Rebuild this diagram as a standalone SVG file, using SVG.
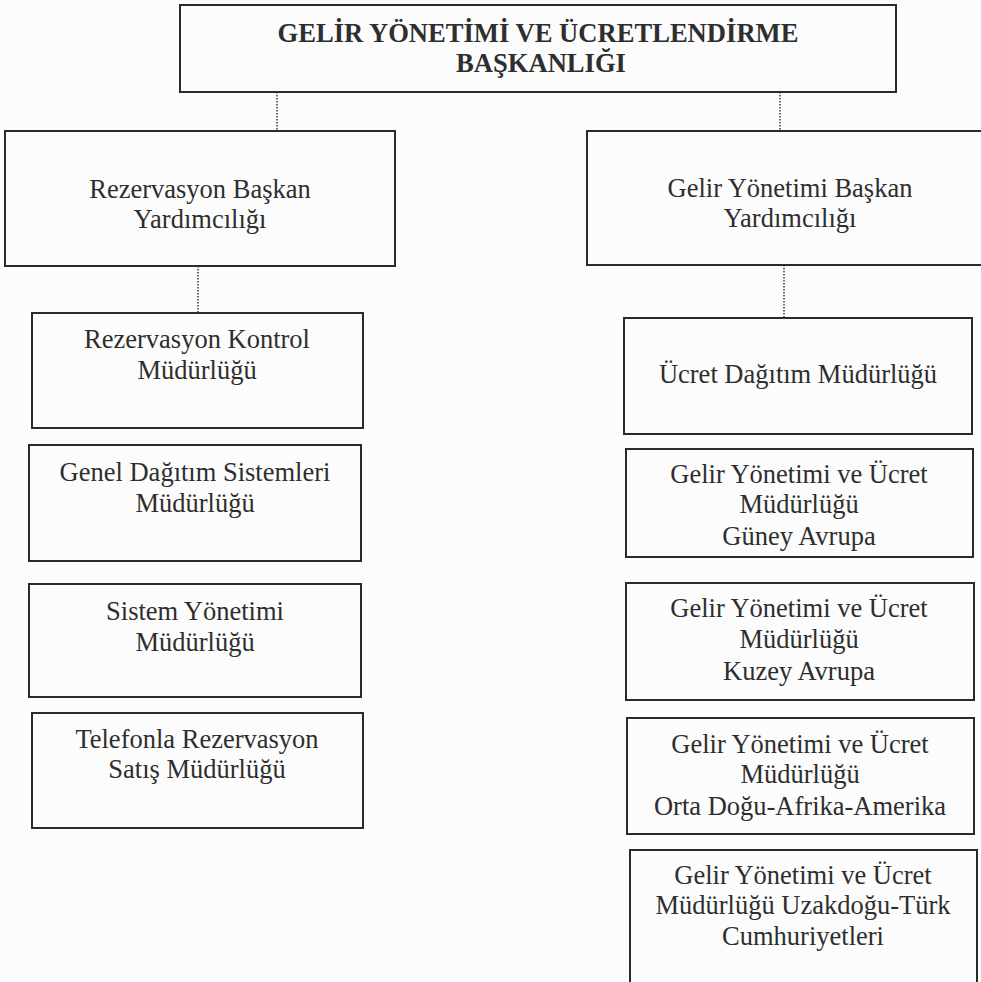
<svg xmlns="http://www.w3.org/2000/svg" width="981" height="982" viewBox="0 0 981 982">
  <style>
    .box { fill: none; stroke: #2a2a2a; stroke-width: 2; }
    .link { stroke: #444; stroke-width: 1.6; stroke-dasharray: 1.5 1.5; fill: none; }
    text { font-family: "Liberation Serif", "Times New Roman", serif; fill: #2e2e2e; text-anchor: middle; }
    .t { font-size: 26.5px; }
    .title { font-size: 26.6px; font-weight: bold; }
  </style>
  <rect width="981" height="982" fill="#fcfcfc"/>

  <!-- connectors -->
  <g id="connectors">
    <line class="link" x1="277" y1="92" x2="277" y2="131"/>
    <line class="link" x1="780" y1="92" x2="780" y2="131"/>
    <line class="link" x1="198" y1="266" x2="198" y2="313"/>
    <line class="link" x1="784" y1="265" x2="784" y2="318"/>
  </g>

  <!-- head office -->
  <g id="baskanlik">
    <rect class="box" x="180" y="5" width="716" height="87"/>
    <text class="title" x="538" y="42">GELİR YÖNETİMİ VE ÜCRETLENDİRME</text>
    <text class="title" x="541" y="72">BAŞKANLIĞI</text>
  </g>

  <!-- deputy heads -->
  <g id="rezervasyon-bsk-yrd">
    <rect class="box" x="5" y="131" width="390" height="135"/>
    <text class="t" x="200" y="198">Rezervasyon Başkan</text>
    <text class="t" x="200" y="228">Yardımcılığı</text>
  </g>
  <g id="gelir-bsk-yrd">
    <rect class="box" x="587" y="131" width="410" height="134"/>
    <text class="t" x="790" y="197">Gelir Yönetimi Başkan</text>
    <text class="t" x="790" y="227">Yardımcılığı</text>
  </g>

  <!-- left column -->
  <g id="rezervasyon-kontrol">
    <rect class="box" x="32" y="313" width="331" height="115"/>
    <text class="t" x="197" y="348">Rezervasyon Kontrol</text>
    <text class="t" x="197" y="379">Müdürlüğü</text>
  </g>
  <g id="genel-dagitim">
    <rect class="box" x="29" y="445" width="332" height="116"/>
    <text class="t" x="195" y="481">Genel Dağıtım Sistemleri</text>
    <text class="t" x="195" y="512">Müdürlüğü</text>
  </g>
  <g id="sistem-yonetimi">
    <rect class="box" x="29" y="584" width="332" height="113"/>
    <text class="t" x="195" y="620">Sistem Yönetimi</text>
    <text class="t" x="195" y="651">Müdürlüğü</text>
  </g>
  <g id="telefonla-satis">
    <rect class="box" x="32" y="713" width="331" height="115"/>
    <text class="t" x="197" y="748">Telefonla Rezervasyon</text>
    <text class="t" x="197" y="778">Satış Müdürlüğü</text>
  </g>

  <!-- right column -->
  <g id="ucret-dagitim">
    <rect class="box" x="624" y="318" width="348" height="116"/>
    <text class="t" x="798" y="383">Ücret Dağıtım Müdürlüğü</text>
  </g>
  <g id="guney-avrupa">
    <rect class="box" x="626" y="449" width="347" height="108"/>
    <text class="t" x="799" y="483">Gelir Yönetimi ve Ücret</text>
    <text class="t" x="799" y="513">Müdürlüğü</text>
    <text class="t" x="799" y="545">Güney Avrupa</text>
  </g>
  <g id="kuzey-avrupa">
    <rect class="box" x="626" y="583" width="348" height="117"/>
    <text class="t" x="799" y="617">Gelir Yönetimi ve Ücret</text>
    <text class="t" x="799" y="648">Müdürlüğü</text>
    <text class="t" x="799" y="680">Kuzey Avrupa</text>
  </g>
  <g id="orta-dogu">
    <rect class="box" x="627" y="718" width="347" height="116"/>
    <text class="t" x="800" y="753">Gelir Yönetimi ve Ücret</text>
    <text class="t" x="800" y="783">Müdürlüğü</text>
    <text class="t" x="800" y="815">Orta Doğu-Afrika-Amerika</text>
  </g>
  <g id="uzakdogu">
    <rect class="box" x="630" y="850" width="347" height="145"/>
    <text class="t" x="803" y="884">Gelir Yönetimi ve Ücret</text>
    <text class="t" x="803" y="914">Müdürlüğü Uzakdoğu-Türk</text>
    <text class="t" x="803" y="945">Cumhuriyetleri</text>
  </g>
</svg>
